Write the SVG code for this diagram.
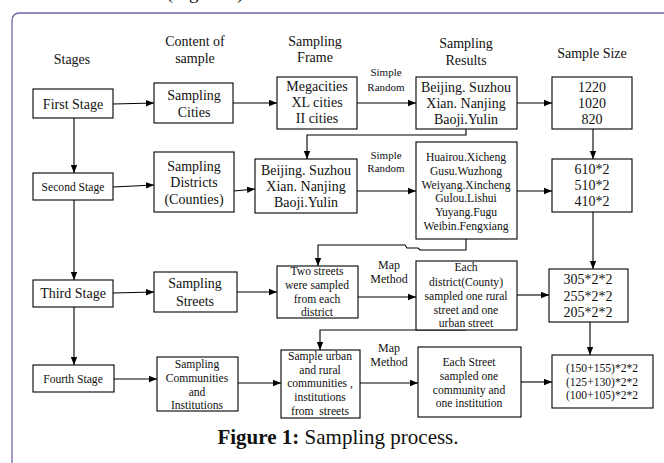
<svg xmlns="http://www.w3.org/2000/svg" width="664" height="463" viewBox="0 0 664 463">
<defs>
<marker id="ah" markerUnits="userSpaceOnUse" markerWidth="8" markerHeight="8" viewBox="0 0 8 8" refX="8" refY="4" orient="auto">
<path d="M0,0.8 L8,4 L0,7.2 Z" fill="#000"/>
</marker>
<style>
text{font-family:"Liberation Serif","Times New Roman",serif;fill:#111;text-anchor:middle}
.h{font-size:14px}
.b{font-size:14px}
.s{font-size:11.6px}
.l{font-size:11px}
.m{font-size:12px}
rect{fill:#fff;stroke:#000;stroke-width:1.1}
.c path,.c line{fill:none;stroke:#000;stroke-width:1.1}
.a{marker-end:url(#ah)}
</style>
</defs>
<rect x="0" y="0" width="664" height="463" style="fill:#fff;stroke:none"/>
<text x="205" y="-1" style="font-size:19px">(Figure 1)</text>
<path d="M12,463 L12,21 Q12,13 20,13 L664,13" fill="none" stroke="#6e68a8" stroke-width="1.3"/>

<g id="headers">
<text class="h" x="72" y="64">Stages</text>
<text class="h" x="195" y="46">Content of</text>
<text class="h" x="195" y="63">sample</text>
<text class="h" x="315" y="46">Sampling</text>
<text class="h" x="315" y="62">Frame</text>
<text class="h" x="466" y="48">Sampling</text>
<text class="h" x="466" y="65">Results</text>
<text class="h" x="592" y="58">Sample Size</text>
</g>

<g id="connectors" class="c">
<line class="a" x1="113" y1="104" x2="154" y2="103"/>
<line class="a" x1="233" y1="103" x2="277" y2="103"/>
<line class="a" x1="357" y1="103" x2="416" y2="103"/>
<line class="a" x1="517" y1="103" x2="552" y2="103"/>
<path class="a" d="M466,129 L466,135 L307,135 L307,159"/>
<line class="a" x1="593" y1="129" x2="593" y2="159"/>
<line class="a" x1="74" y1="118" x2="74" y2="173"/>

<line class="a" x1="113" y1="187" x2="154" y2="185"/>
<line class="a" x1="234" y1="191" x2="255" y2="189"/>
<line class="a" x1="357" y1="191" x2="416" y2="191"/>
<line class="a" x1="517" y1="191" x2="552" y2="191"/>
<path class="a" d="M466,239 L466,250 L420,250 L418,248 L407,248 L405,245 L318,245 L318,266"/>
<line class="a" x1="593" y1="212" x2="593" y2="269"/>
<line class="a" x1="74" y1="200" x2="74" y2="280"/>

<line class="a" x1="113" y1="293" x2="154" y2="292"/>
<line class="a" x1="237" y1="292" x2="277" y2="292"/>
<line class="a" x1="358" y1="297" x2="416" y2="297"/>
<line class="a" x1="517" y1="295" x2="549" y2="295"/>
<path class="a" d="M466,330 L320,330 L320,350"/>
<line class="a" x1="590" y1="322" x2="590" y2="355"/>
<line class="a" x1="74" y1="307" x2="74" y2="365"/>

<line class="a" x1="114" y1="379" x2="157" y2="379"/>
<line class="a" x1="238" y1="383" x2="281" y2="383"/>
<line class="a" x1="360" y1="383" x2="418" y2="383"/>
<line class="a" x1="521" y1="382" x2="552" y2="382"/>
</g>

<g id="labels">
<text class="l" x="386" y="76">Simple</text>
<text class="l" x="386" y="91">Random</text>
<text class="l" x="386" y="159">Simple</text>
<text class="l" x="386" y="172">Random</text>
<text class="m" x="389" y="269">Map</text>
<text class="m" x="389" y="283">Method</text>
<text class="m" x="389" y="352">Map</text>
<text class="m" x="389" y="366">Method</text>
</g>

<g id="first-stage"><rect x="33" y="89" width="80" height="29"/><text class="b" x="73" y="109">First Stage</text></g>
<g id="sampling-cities"><rect x="154" y="83" width="79" height="40"/><text class="b" x="194" y="100">Sampling</text><text class="b" x="194" y="117">Cities</text></g>
<g id="frame-1"><rect x="277" y="77" width="80" height="52"/><text class="b" x="317" y="91">Megacities</text><text class="b" x="317" y="107">XL cities</text><text class="b" x="317" y="123">II cities</text></g>
<g id="results-1"><rect x="416" y="77" width="101" height="52"/><text class="b" x="466" y="92">Beijing. Suzhou</text><text class="b" x="466" y="108">Xian. Nanjing</text><text class="b" x="466" y="124">Baoji.Yulin</text></g>
<g id="size-1"><rect x="552" y="77" width="80" height="52"/><text class="b" x="592" y="92">1220</text><text class="b" x="592" y="108">1020</text><text class="b" x="592" y="124">820</text></g>

<g id="second-stage"><rect x="33" y="173" width="80" height="27"/><text class="s" x="73" y="191">Second Stage</text></g>
<g id="sampling-districts"><rect x="154" y="152" width="80" height="60"/><text class="b" x="194" y="171">Sampling</text><text class="b" x="194" y="187">Districts</text><text class="b" x="194" y="204">(Counties)</text></g>
<g id="frame-2"><rect x="255" y="159" width="102" height="54"/><text class="b" x="306" y="175">Beijing. Suzhou</text><text class="b" x="306" y="191">Xian. Nanjing</text><text class="b" x="306" y="207">Baoji.Yulin</text></g>
<g id="results-2"><rect x="416" y="142" width="101" height="97"/><text class="s" x="466" y="161">Huairou.Xicheng</text><text class="s" x="466" y="175">Gusu.Wuzhong</text><text class="s" x="466" y="189">Weiyang.Xincheng</text><text class="s" x="466" y="202">Gulou.Lishui</text><text class="s" x="466" y="216">Yuyang.Fugu</text><text class="s" x="466" y="230">Weibin.Fengxiang</text></g>
<g id="size-2"><rect x="552" y="159" width="80" height="53"/><text class="b" x="592" y="174">610*2</text><text class="b" x="592" y="190">510*2</text><text class="b" x="592" y="206">410*2</text></g>

<g id="third-stage"><rect x="33" y="280" width="80" height="27"/><text class="b" x="73" y="298">Third Stage</text></g>
<g id="sampling-streets"><rect x="154" y="272" width="83" height="40"/><text class="b" x="195" y="288">Sampling</text><text class="b" x="195" y="306">Streets</text></g>
<g id="two-streets"><rect x="277" y="266" width="81" height="52"/><text class="s" x="317" y="275">Two streets</text><text class="s" x="317" y="289">were sampled</text><text class="s" x="317" y="303">from each</text><text class="s" x="317" y="316">district</text></g>
<g id="each-district"><rect x="416" y="261" width="101" height="69"/><text class="s" x="466" y="271">Each</text><text class="s" x="466" y="286">district(County)</text><text class="s" x="466" y="300">sampled one rural</text><text class="s" x="466" y="314">street and one</text><text class="s" x="466" y="327">urban street</text></g>
<g id="size-3"><rect x="549" y="269" width="79" height="53"/><text class="b" x="588" y="284">305*2*2</text><text class="b" x="588" y="301">255*2*2</text><text class="b" x="588" y="317">205*2*2</text></g>

<g id="fourth-stage"><rect x="33" y="365" width="81" height="27"/><text class="s" x="73" y="383">Fourth Stage</text></g>
<g id="sampling-communities"><rect x="157" y="357" width="81" height="54"/><text class="s" x="197" y="368">Sampling</text><text class="s" x="197" y="382">Communities</text><text class="s" x="197" y="396">and</text><text class="s" x="197" y="409">Institutions</text></g>
<g id="sample-urban"><rect x="281" y="350" width="79" height="68"/><text class="s" x="320" y="360">Sample urban</text><text class="s" x="320" y="374">and rural</text><text class="s" x="320" y="387">communities ,</text><text class="s" x="320" y="401">institutions</text><text class="s" x="320" y="415" xml:space="preserve">from  streets</text></g>
<g id="each-street"><rect x="418" y="347" width="103" height="70"/><text class="s" x="469" y="366">Each Street</text><text class="s" x="469" y="380">sampled one</text><text class="s" x="469" y="394">community and</text><text class="s" x="469" y="407">one institution</text></g>
<g id="size-4"><rect x="552" y="355" width="101" height="53"/><text class="s" x="602" y="372">(150+155)*2*2</text><text class="s" x="602" y="386">(125+130)*2*2</text><text class="s" x="602" y="399">(100+105)*2*2</text></g>

<text x="338" y="444" style="font-size:21px"><tspan font-weight="bold">Figure 1:</tspan> Sampling process.</text>
</svg>
